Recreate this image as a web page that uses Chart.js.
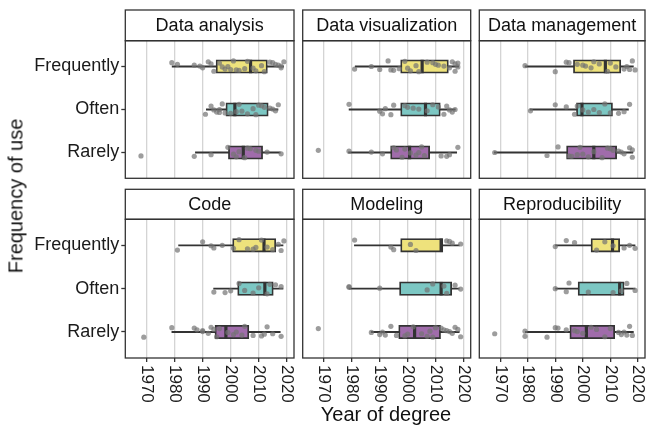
<!DOCTYPE html>
<html>
<head>
<meta charset="utf-8">
<script src="https://cdn.jsdelivr.net/npm/chart.js@4.4.1/dist/chart.umd.min.js"></script>
<style>
  html, body { margin: 0; padding: 0; background: #fff; }
  #wrap { position: relative; width: 649px; height: 432px; overflow: hidden; font-family: 'Liberation Sans', Arial, sans-serif; }
  #wrap canvas { position: absolute; left: 0; top: 0; }
  .title { position: absolute; font-size: 20px; color: #111; white-space: nowrap; }
  #xtitle { left: 386px; top: 403px; transform: translateX(-50%); }
  #ytitle { left: 16px; top: 196px; transform: translate(-50%, -50%) rotate(-90deg); }
</style>
</head>
<body>
<div id="wrap">
  <canvas id="c0" width="649" height="432"></canvas>
  <canvas id="c1" width="649" height="432"></canvas>
  <canvas id="c2" width="649" height="432"></canvas>
  <canvas id="c3" width="649" height="432"></canvas>
  <canvas id="c4" width="649" height="432"></canvas>
  <canvas id="c5" width="649" height="432"></canvas>
  <div class="title" id="xtitle">Year of degree</div>
  <div class="title" id="ytitle">Frequency of use</div>
</div>
<script>
// ---- data ----
const panels = ['Data analysis', 'Data visualization', 'Data management', 'Code', 'Modeling', 'Reproducibility'];
const levels = ['Frequently', 'Often', 'Rarely'];
const yearTicks = [1970, 1980, 1990, 2000, 2010, 2020];

// [lower whisker, Q1, median, Q3, upper whisker] for Frequently, Often, Rarely
const analysisStats = [[1979, 1994.8, 2007.1, 2013.1, 2019], [1991.2, 1998.3, 2001.5, 2013.4, 2017], [1987.3, 1999.2, 2004.5, 2011.4, 2017.8]];
const visualStats = [[1981.1, 1997.5, 2005.2, 2014.6, 2018.4], [1978.9, 1997.5, 2006.4, 2011.7, 2017.2], [1978.7, 1993.9, 2000.7, 2007.9, 2017.7]];
const managementStats = [[1978.9, 1996.6, 2008.2, 2013.8, 2018.5], [1980.7, 1997.7, 1999.7, 2010.8, 2016.7], [1967.7, 1994.1, 2004.0, 2012.3, 2018.3]];
const codeStats = [[1981.3, 2000.7, 2011.9, 2016.1, 2018.8], [1993.8, 2002.5, 2012.2, 2015.2, 2018.8], [1978.9, 1994.4, 1998.3, 2006.5, 2017.8]];
const modelingStats = [[1980.8, 1997.5, 2012.0, 2012.6, 2018.6], [1978.9, 1997.1, 2012.0, 2015.8, 2018.6], [1986.8, 1996.8, 2002.5, 2011.8, 2018.6]];
const reproStats = [[1990, 2003.0, 2010.8, 2013.4, 2019.1], [1990, 1998.3, 2013.4, 2015.0, 2019.1], [1979, 1995.3, 2001.3, 2011.6, 2018.5]];

// individual respondents (year of degree)
const analysisPoints = [
  [1979, 1981, 1987, 1989, 1990, 1992, 1993, 1994, 1996, 1997, 1998, 1999, 2000, 2001, 2002, 2003, 2005, 2006, 2008, 2009, 2011, 2012, 2014, 2015, 2016, 2017, 2018, 2018, 2019],
  [1991, 1993, 1994, 1995, 1996, 1996, 1997, 1998, 2000, 2002, 2003, 2004, 2006, 2008, 2009, 2010, 2011, 2012, 2014, 2015, 2016, 2017],
  [1968, 1987, 1993, 1999, 2001, 2002, 2003, 2005, 2006, 2007, 2009, 2010, 2013, 2018]
];
const visualPoints = [
  [1981, 1987, 1990, 1993, 1994, 1995, 1997, 1999, 2000, 2001, 2003, 2004, 2007, 2009, 2010, 2011, 2013, 2015, 2016, 2017, 2017, 2018, 2018],
  [1979, 1990, 1991, 1992, 1994, 1995, 1999, 2000, 2002, 2004, 2007, 2009, 2011, 2013, 2014, 2015, 2016, 2017],
  [1968, 1979, 1987, 1991, 1995, 1996, 1998, 1999, 2001, 2003, 2004, 2006, 2005, 2012, 2014, 2015, 2018]
];
const managementPoints = [
  [1979, 1990, 1994, 1995, 1998, 2000, 2001, 2003, 2004, 2006, 2009, 2010, 2012, 2015, 2016, 2017, 2018, 2019],
  [1981, 1990, 1994, 1997, 1998, 2000, 2002, 2004, 2006, 2008, 2010, 2013, 2015, 2017],
  [1968, 1987, 1991, 1995, 1996, 1998, 1999, 2000, 2002, 2004, 2007, 2009, 2010, 2011, 2013, 2014, 2015, 2017, 2018, 2018]
];
const codePoints = [
  [1981, 1990, 1993, 1994, 1997, 2001, 2003, 2006, 2008, 2009, 2011, 2013, 2015, 2017, 2018, 2019],
  [1994, 1998, 2000, 2003, 2005, 2008, 2010, 2013, 2014, 2016, 2018],
  [1969, 1979, 1987, 1988, 1990, 1990, 1992, 1993, 1994, 1995, 1996, 1999, 2001, 2002, 2004, 2005, 2008, 2011, 2012, 2013, 2015, 2018]
];
const modelingPoints = [
  [1981, 1994, 1995, 2001, 2003, 2014, 2015, 2016, 2019],
  [1979, 1979, 1990, 2007, 2009, 2013, 2014, 2017, 2019],
  [1968, 1987, 1990, 1991, 1992, 1994, 1996, 1999, 2000, 2002, 2005, 2007, 2008, 2009, 2010, 2012, 2013, 2014, 2015, 2016, 2017, 2018, 2019]
];
const reproPoints = [
  [1990, 1994, 1997, 2005, 2008, 2011, 2015, 2017, 2019],
  [1990, 1994, 1995, 2002, 2011, 2014, 2016, 2019],
  [1968, 1979, 1979, 1987, 1990, 1991, 1994, 1997, 1998, 2000, 2003, 2005, 2008, 2010, 2013, 2014, 2015, 2016, 2017, 2018]
];

const allStats = [analysisStats, visualStats, managementStats, codeStats, modelingStats, reproStats];
const allPoints = [analysisPoints, visualPoints, managementPoints, codePoints, modelingPoints, reproPoints];

// ---- styling / layout ----
const boxColors = ['#EEE27C', '#7CC7C3', '#A06CAB'];
const jitter = [-0.09, 0.06, -0.02, 0.11, -0.12, 0.03, 0.08, -0.05, 0.0, 0.12, -0.08, 0.04, -0.11, 0.09, -0.03, 0.07, -0.1, 0.01, 0.1, -0.06, 0.05, -0.01, -0.13];
const colEdges = [[125.3, 294], [302.7, 470.7], [479.3, 646.7]];
const rowEdges = [{ strip: 10, top: 40.7, bottom: 178.3 }, { strip: 189.3, top: 219.3, bottom: 358 }];
const FONT = "'Liberation Sans', Arial, sans-serif";
const DARK = '#333333';

const boxPlugin = {
  id: 'boxExtras',
  beforeDatasetsDraw(chart) {
    const { ctx, scales: { x, y } } = chart;
    const stats = chart.options.plugins.boxExtras.stats;
    ctx.save();
    ctx.strokeStyle = DARK;
    ctx.lineWidth = 1.8;
    stats.forEach((s, i) => {
      const py = y.getPixelForValue(i + 1);
      ctx.beginPath();
      ctx.moveTo(x.getPixelForValue(s[0]), py);
      ctx.lineTo(x.getPixelForValue(s[4]), py);
      ctx.stroke();
    });
    ctx.restore();
  },
  afterDatasetDraw(chart, args) {
    if (args.index !== 1) return;
    const { ctx, scales: { x } } = chart;
    const stats = chart.options.plugins.boxExtras.stats;
    ctx.save();
    ctx.strokeStyle = DARK;
    ctx.lineWidth = 3.2;
    args.meta.data.forEach((el, i) => {
      const px = x.getPixelForValue(stats[i][2]);
      ctx.beginPath();
      ctx.moveTo(px, el.y - el.height / 2);
      ctx.lineTo(px, el.y + el.height / 2);
      ctx.stroke();
    });
    ctx.restore();
  },
  afterDraw(chart) {
    const { ctx, chartArea: a, scales: { x } } = chart;
    const o = chart.options.plugins.boxExtras;
    ctx.save();
    // strip
    ctx.fillStyle = '#fff';
    ctx.fillRect(a.left, o.stripTop, a.right - a.left, a.top - o.stripTop);
    ctx.strokeStyle = DARK;
    ctx.lineWidth = 1.3;
    ctx.strokeRect(a.left, o.stripTop, a.right - a.left, a.top - o.stripTop);
    ctx.fillStyle = '#111';
    ctx.font = '18px ' + FONT;
    ctx.textAlign = 'center';
    ctx.textBaseline = 'middle';
    ctx.fillText(o.label, (a.left + a.right) / 2, (o.stripTop + a.top) / 2 + 1);
    // panel border
    ctx.strokeRect(a.left, a.top, a.right - a.left, a.bottom - a.top);
    // rotated year labels on the bottom row
    if (o.xLabels) {
      ctx.font = '17px ' + FONT;
      ctx.fillStyle = '#1a1a1a';
      ctx.textAlign = 'left';
      ctx.textBaseline = 'middle';
      yearTicks.forEach(v => {
        ctx.save();
        ctx.translate(x.getPixelForValue(v), a.bottom + 7);
        ctx.rotate(Math.PI / 2);
        ctx.fillText(String(v), 0, 0);
        ctx.restore();
      });
    }
    ctx.restore();
  }
};

panels.forEach((name, p) => {
  const col = p % 3, row = Math.floor(p / 3);
  const [left, right] = colEdges[col];
  const r = rowEdges[row];
  const stats = allStats[p];
  const pts = [];
  allPoints[p].forEach((list, i) => {
    list.forEach((v, k) => pts.push({ x: v, y: i + 1 + jitter[(k * 7 + i * 3 + p) % jitter.length] }));
  });

  new Chart(document.getElementById('c' + p), {
    type: 'scatter',
    data: {
      datasets: [
        {
          data: pts,
          pointRadius: 2.6,
          pointBackgroundColor: 'rgba(115,115,115,0.7)',
          pointBorderWidth: 0
        },
        {
          type: 'bar',
          indexAxis: 'y',
          data: stats.map((s, i) => ({ y: i + 1, x: [s[1], s[3]] })),
          backgroundColor: boxColors,
          borderColor: DARK,
          borderWidth: 1.8,
          borderSkipped: false,
          barThickness: 13.5
        }
      ]
    },
    options: {
      responsive: false,
      animation: false,
      layout: { padding: { left: col === 0 ? 0 : left, right: 649 - right, top: r.top, bottom: 432 - r.bottom } },
      plugins: {
        legend: { display: false },
        tooltip: { enabled: false },
        boxExtras: { stats: stats, label: name, stripTop: r.strip, xLabels: row === 1 }
      },
      scales: {
        x: {
          type: 'linear',
          min: 1962.4,
          max: 2022.6,
          offset: false,
          beginAtZero: false,
          afterBuildTicks: s => { s.ticks = yearTicks.map(v => ({ value: v })); },
          afterFit: s => { s.height = 0; },
          ticks: { display: false },
          border: { display: false },
          grid: {
            offset: false,
            color: '#D4D4D4',
            lineWidth: 1.3,
            drawTicks: row === 1,
            tickLength: 4,
            tickColor: DARK,
            tickWidth: 1.3
          }
        },
        y: {
          type: 'linear',
          display: col === 0,
          reverse: true,
          offset: false,
          min: 0.4,
          max: 3.6,
          afterBuildTicks: s => { s.ticks = [1, 2, 3].map(v => ({ value: v })); },
          afterFit: s => { s.width = col === 0 ? left : 0; },
          border: { display: false },
          ticks: {
            padding: 2,
            autoSkip: false,
            color: '#1a1a1a',
            font: { size: 18, family: FONT },
            callback: v => levels[v - 1]
          },
          grid: {
            offset: false,
            drawOnChartArea: false,
            drawTicks: true,
            tickLength: 4,
            tickColor: DARK,
            tickWidth: 1.3
          }
        }
      }
    },
    plugins: [boxPlugin]
  });
});
</script>
</body>
</html>
